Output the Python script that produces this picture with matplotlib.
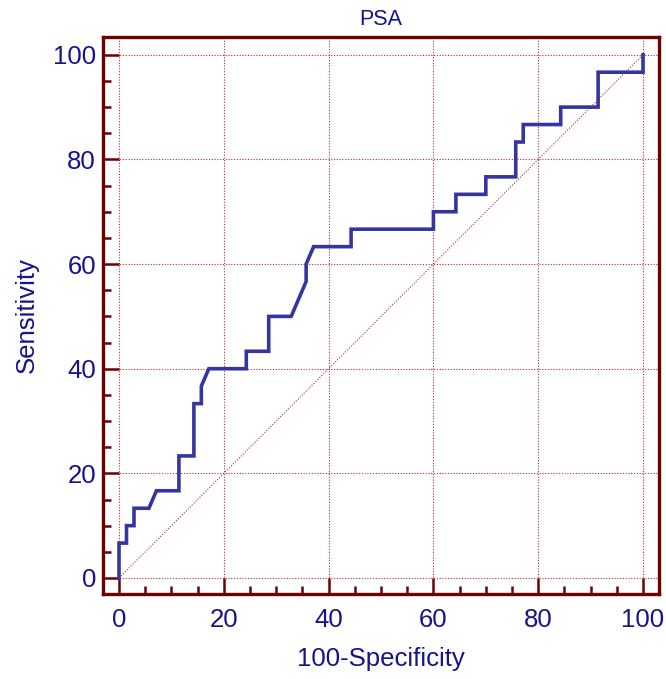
import numpy as np
import matplotlib.pyplot as plt
from matplotlib.ticker import MultipleLocator

plt.rcParams['font.family'] = ['Liberation Sans', 'DejaVu Sans']

title = "PSA"
xlabel = "100-Specificity"
ylabel = "Sensitivity"

# ROC curve vertices (100-Specificity, Sensitivity)
fpr = [0, 0, 1.43, 1.43, 2.86, 2.86, 5.71, 7.14, 11.43, 11.43, 14.29, 14.29,
       15.71, 15.71, 17.14, 24.29, 24.29, 28.57, 28.57, 32.86, 35.71, 35.71,
       37.14, 44.29, 44.29, 60, 60, 64.29, 64.29, 70, 70, 75.71, 75.71,
       77.14, 77.14, 84.29, 84.29, 91.43, 91.43, 100, 100]
tpr = [0, 6.67, 6.67, 10, 10, 13.33, 13.33, 16.67, 16.67, 23.33, 23.33, 33.33,
       33.33, 36.67, 40, 40, 43.33, 43.33, 50, 50, 56.67, 60,
       63.33, 63.33, 66.67, 66.67, 70, 70, 73.33, 73.33, 76.67, 76.67, 83.33,
       83.33, 86.67, 86.67, 90, 90, 96.67, 96.67, 100]

text_col = "#14148c"
frame_col = "#6e0000"
grid_col = "#b03030"
line_col = "#3535a0"

fig = plt.figure(figsize=(6.66, 6.79), dpi=100)
ax = fig.add_axes([0.1547, 0.1252, 0.8348, 0.8203])

ax.plot([0, 100], [0, 100], color=grid_col, lw=0.8, ls=(0, (1, 1.5)), zorder=1)
ax.plot(fpr, tpr, color=line_col, lw=2.6, solid_joinstyle='miter', zorder=3)

ax.set_xlim(-3.05, 103.05)
ax.set_ylim(-3.06, 103.4)
ax.xaxis.set_major_locator(MultipleLocator(20))
ax.yaxis.set_major_locator(MultipleLocator(20))
ax.xaxis.set_minor_locator(MultipleLocator(5))
ax.yaxis.set_minor_locator(MultipleLocator(5))
ax.grid(True, which='major', color=grid_col, lw=0.8, ls=(0, (1, 1.5)), zorder=0)

for s in ax.spines.values():
    s.set_color(frame_col)
    s.set_linewidth(2.4)

ax.tick_params(which='major', direction='in', length=11.5, width=1.8,
               color=frame_col, labelcolor=text_col, labelsize=18.5, pad=5)
ax.tick_params(which='minor', direction='in', length=5.8, width=1.8,
               color=frame_col)
ax.tick_params(axis='x', which='major', pad=10)

ax.set_title(title, color=text_col, fontsize=15.5, pad=9)
ax.set_xlabel(xlabel, color=text_col, fontsize=18.5, labelpad=11)
ax.set_ylabel(ylabel, color=text_col, fontsize=18.5, labelpad=10)

fig.savefig("out.png", dpi=100)
